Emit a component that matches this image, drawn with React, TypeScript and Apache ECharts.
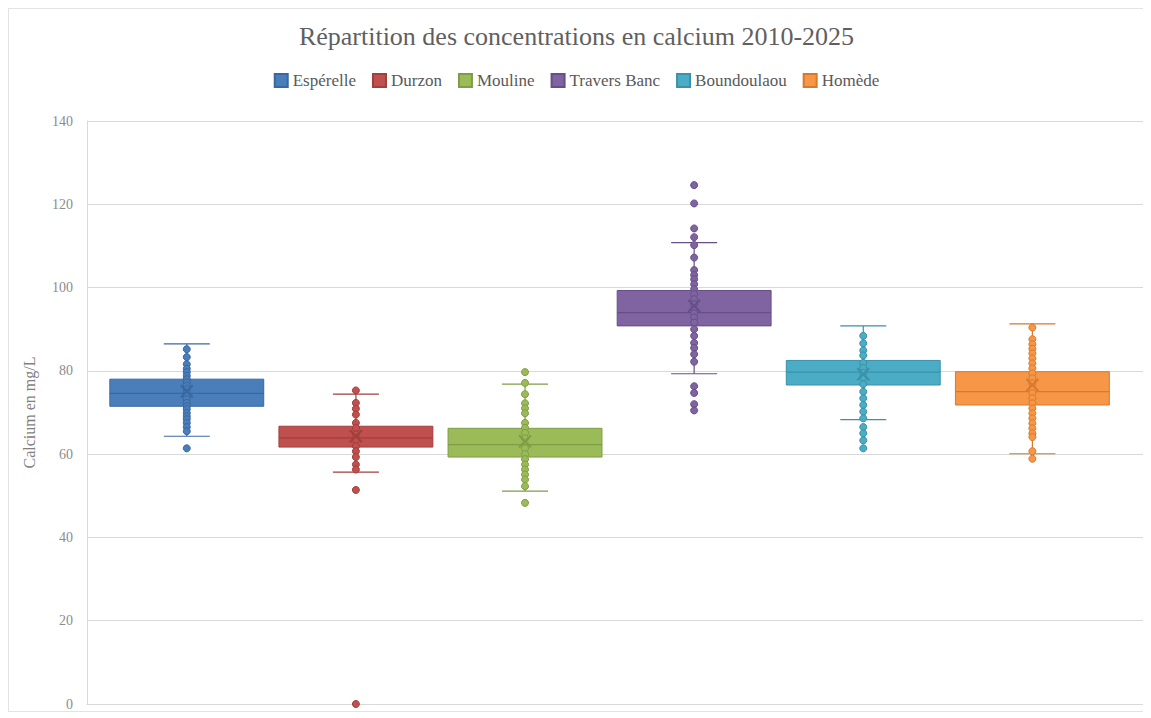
import React, { useEffect, useRef } from "react";
import * as echarts from "echarts";

const stations = ["Espérelle", "Durzon", "Mouline", "Travers Banc", "Boundoulaou", "Homède"];
const colors = ["#4a7ebb", "#c0504d", "#9bbb59", "#8064a2", "#4bacc6", "#f79646"];
const darkColors = ["#3a67a0", "#a13f3c", "#7f9d45", "#664f86", "#3a91a8", "#d67a2e"];

const whiskerLow = [64.3, 55.7, 51.1, 79.3, 68.3, 60.1];
const q1 = [71.5, 61.7, 59.3, 90.8, 76.6, 71.8];
const median = [74.6, 63.9, 62.3, 94.0, 79.7, 75.0];
const q3 = [78.0, 66.7, 66.2, 99.3, 82.5, 79.8];
const whiskerHigh = [86.5, 74.4, 76.8, 110.8, 90.8, 91.3];
const mean = [75.1, 64.3, 63.1, 95.6, 79.2, 76.6];

const pointsEsperelle = [85.2, 83.3, 81.6, 80.5, 79.7, 78.8, 78.0, 77.2, 76.4, 75.6, 74.7, 73.9, 73.2, 72.3, 71.5, 70.8, 69.9, 69.1, 68.4, 67.5, 66.5, 65.5, 61.4];
const pointsDurzon = [75.3, 72.3, 70.9, 69.5, 67.5, 66.3, 64.7, 63.4, 61.9, 60.7, 59.3, 57.5, 56.3, 51.4, 0];
const pointsMouline = [79.7, 77.1, 74.4, 72.2, 71.0, 69.8, 67.5, 66.3, 65.1, 63.8, 61.4, 60.0, 58.8, 57.5, 56.3, 55.1, 53.9, 52.3, 48.3];
const pointsTraversBanc = [124.6, 120.2, 114.2, 112.1, 110.2, 107.2, 104.2, 103.0, 102.0, 100.8, 99.6, 98.4, 97.2, 96.0, 94.8, 93.8, 92.8, 91.6, 90.0, 88.4, 86.7, 85.5, 84.0, 82.2, 76.3, 74.7, 72.0, 70.5];
const pointsBoundoulaou = [88.4, 86.6, 84.9, 83.7, 81.9, 80.7, 79.5, 78.4, 76.8, 75.0, 73.4, 71.8, 70.2, 68.6, 66.5, 65.0, 63.3, 61.4];
const pointsHomede = [90.4, 87.6, 86.4, 85.3, 84.2, 83.0, 81.8, 80.6, 79.4, 78.2, 77.0, 75.8, 74.6, 73.4, 72.2, 71.0, 69.8, 68.6, 67.4, 66.2, 65.0, 64.1, 60.7, 58.9];

const allPoints = [pointsEsperelle, pointsDurzon, pointsMouline, pointsTraversBanc, pointsBoundoulaou, pointsHomede];

const yTicks = { min: 0, max: 140, interval: 20 };
const FONT = "'Liberation Serif', serif";

export default function App() {
  const ref = useRef<HTMLDivElement>(null);
  useEffect(() => {
    if (!ref.current) return;
    const chart = echarts.init(ref.current, null, { renderer: "svg" });
    const boxData = stations.map((_, i) => [i, whiskerLow[i], q1[i], median[i], q3[i], whiskerHigh[i]]);
    const meanData = stations.map((_, i) => [i, mean[i]]);

    const boxSeries = {
      type: "custom",
      name: "box",
      z: 2,
      silent: true,
      data: boxData,
      renderItem: (params: any, api: any) => {
        const idx = api.value(0);
        const pLow = api.coord([idx, api.value(1)]);
        const pQ1 = api.coord([idx, api.value(2)]);
        const pMed = api.coord([idx, api.value(3)]);
        const pQ3 = api.coord([idx, api.value(4)]);
        const pHigh = api.coord([idx, api.value(5)]);
        const band = api.size([1, 0])[0];
        const hw = band * 0.455;
        const cw = band * 0.136;
        const x = pMed[0];
        const c = colors[idx];
        const d = darkColors[idx];
        const ls = { stroke: d, lineWidth: 1.2 };
        return {
          type: "group",
          children: [
            { type: "line", shape: { x1: x, y1: pQ3[1], x2: x, y2: pHigh[1] }, style: ls },
            { type: "line", shape: { x1: x, y1: pQ1[1], x2: x, y2: pLow[1] }, style: ls },
            { type: "line", shape: { x1: x - cw, y1: pHigh[1], x2: x + cw, y2: pHigh[1] }, style: ls },
            { type: "line", shape: { x1: x - cw, y1: pLow[1], x2: x + cw, y2: pLow[1] }, style: ls },
            { type: "rect", shape: { x: x - hw, y: pQ3[1], width: hw * 2, height: pQ1[1] - pQ3[1] }, style: { fill: c, stroke: d, lineWidth: 1 } },
            { type: "line", shape: { x1: x - hw, y1: pMed[1], x2: x + hw, y2: pMed[1] }, style: ls },
          ],
        };
      },
    };

    const meanSeries = {
      type: "custom",
      name: "mean",
      z: 4,
      silent: true,
      data: meanData,
      renderItem: (params: any, api: any) => {
        const idx = api.value(0);
        const p = api.coord([idx, api.value(1)]);
        const s = 6;
        const d = darkColors[idx];
        return {
          type: "group",
          children: [
            { type: "line", shape: { x1: p[0] - s, y1: p[1] - s, x2: p[0] + s, y2: p[1] + s }, style: { stroke: d, lineWidth: 2 } },
            { type: "line", shape: { x1: p[0] - s, y1: p[1] + s, x2: p[0] + s, y2: p[1] - s }, style: { stroke: d, lineWidth: 2 } },
          ],
        };
      },
    };

    const pointSeries = stations.map((name, i) => ({
      type: "scatter",
      name,
      z: 3,
      symbol: "circle",
      symbolSize: 7,
      itemStyle: { color: colors[i], borderColor: darkColors[i], borderWidth: 1, opacity: 1 },
      data: allPoints[i].map((v) => [i, v]),
    }));

    chart.setOption({
      animation: false,
      backgroundColor: "#ffffff",
      textStyle: { fontFamily: FONT },
      title: {
        text: "Répartition des concentrations en calcium 2010-2025",
        left: "center",
        top: 9,
        textStyle: { fontFamily: FONT, fontSize: 26, fontWeight: "normal", color: "#5f5f5f" },
      },
      legend: {
        data: stations,
        top: 58,
        left: "center",
        icon: "rect",
        itemWidth: 13,
        itemHeight: 13,
        itemGap: 16,
        textStyle: { fontFamily: FONT, fontSize: 17, color: "#595959" },
      },
      grid: { left: 78, right: 0, top: 112, bottom: 7, containLabel: false },
      xAxis: {
        type: "value",
        min: -0.59,
        max: 5.66,
        axisLabel: { show: false },
        axisTick: { show: false },
        axisLine: { show: true, onZero: false, lineStyle: { color: "#d9d9d9" } },
        splitLine: { show: false },
      },
      yAxis: {
        type: "value",
        min: yTicks.min,
        max: yTicks.max,
        interval: yTicks.interval,
        name: "Calcium en mg/L",
        nameLocation: "middle",
        nameGap: 50,
        nameTextStyle: { fontFamily: FONT, fontSize: 16, color: "#7f7f7f" },
        axisLabel: { color: "#8c8c8c", fontSize: 14, margin: 14, fontFamily: FONT },
        axisTick: { show: false },
        axisLine: { show: true, onZero: false, lineStyle: { color: "#d9d9d9" } },
        splitLine: { show: true, lineStyle: { color: "#d9d9d9" } },
      },
      series: [boxSeries, ...pointSeries, meanSeries],
    });
    return () => chart.dispose();
  }, []);
  return (
    <div
      ref={ref}
      style={{ width: 1135, height: 702, border: "1px solid #e3e3e3", boxSizing: "content-box" }}
    />
  );
}
